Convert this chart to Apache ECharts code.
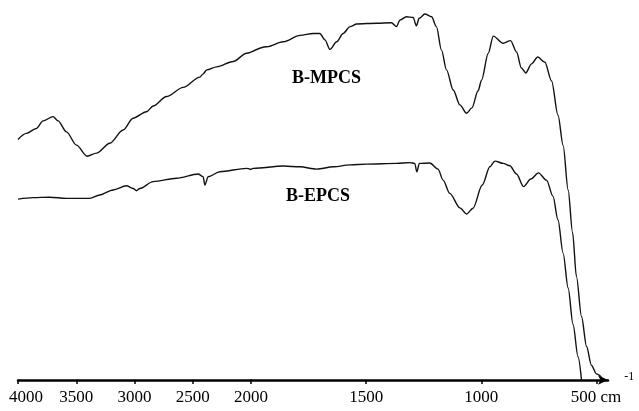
<!DOCTYPE html>
<html>
<head>
<meta charset="utf-8">
<script src="https://cdn.jsdelivr.net/npm/echarts@6/dist/echarts.min.js"></script>
<style>
  html, body { margin: 0; padding: 0; background: #fff; }
  #chart { width: 639px; height: 411px; }
</style>
</head>
<body>
<div id="chart"></div>
<script>
// IR spectra of the two polycarbosilane samples (transmittance, arbitrary %)
// The wavenumber axis changes scale at 2000 cm-1, so it is built from two grids.

const leftTicks = [4000, 3500, 3000, 2500, 2000];
const rightTicks = [1500, 1000, 500];
const unitText = 'cm';
const unitPower = '-1';

const mpcsName = 'B-MPCS';
const mpcsWavenumber = [
  4000, 3928, 3842, 3785, 3699, 3656, 3584, 3498, 3407, 3326,
  3212, 3098, 3012, 2897, 2840, 2725, 2582, 2439, 2413, 2379,
  2296, 2153, 2038, 2000, 1932, 1860, 1787, 1730, 1701, 1679,
  1657, 1628, 1600, 1570, 1541, 1455, 1390, 1368, 1354, 1325,
  1296, 1282, 1270, 1245, 1216, 1195, 1173, 1151, 1122, 1093,
  1064, 1041, 1014, 999, 970, 948, 905, 873, 847, 826,
  807, 782, 755, 724, 695, 667, 645, 623, 604, 587,
  565, 543, 522, 500, 479
];
const mpcsTransmittance = [
  63.3, 64.9, 66.2, 68.2, 69.3, 68.2, 65.3, 61.8, 58.9, 59.7,
  62.3, 65.8, 68.9, 70.6, 72.1, 74.6, 77.0, 79.7, 80.5, 81.6,
  82.4, 83.8, 86.0, 86.3, 87.7, 89.0, 90.7, 91.2, 91.2, 89.5,
  87.0, 89.0, 91.2, 93.0, 93.7, 93.9, 94.0, 93.0, 94.7, 95.6,
  95.4, 93.2, 95.2, 96.3, 95.6, 93.0, 86.8, 81.6, 76.3, 72.4,
  70.2, 71.6, 76.1, 78.9, 86.0, 90.5, 88.6, 89.3, 86.3, 82.1,
  80.8, 83.2, 85.0, 83.6, 78.7, 69.7, 61.8, 50.0, 38.9, 27.2,
  16.7, 8.8, 3.9, 1.6, 0.8
];

const epcsName = 'B-EPCS';
const epcsWavenumber = [
  4000, 3871, 3728, 3584, 3384, 3298, 3184, 3069, 3012, 2983,
  2955, 2840, 2639, 2454, 2411, 2396, 2368, 2267, 2038, 2000,
  1990, 1860, 1787, 1715, 1643, 1570, 1498, 1368, 1310, 1289,
  1280, 1269, 1224, 1188, 1166, 1137, 1093, 1064, 1036, 996,
  963, 941, 905, 876, 847, 817, 785, 752, 717, 689,
  667, 645, 623, 602, 580, 565
];
const epcsTransmittance = [
  47.6, 48.0, 48.1, 47.8, 47.8, 48.7, 50.0, 51.1, 50.4, 49.8,
  50.4, 52.2, 53.1, 54.2, 53.5, 51.3, 53.5, 54.8, 55.7, 55.4,
  55.7, 56.3, 56.1, 55.5, 56.1, 56.6, 56.8, 57.0, 57.2, 57.0,
  54.8, 57.0, 57.1, 55.5, 52.6, 49.1, 45.3, 43.7, 45.2, 51.3,
  56.1, 57.6, 57.0, 56.4, 54.2, 50.9, 52.9, 54.5, 52.6, 48.4,
  42.1, 33.4, 24.2, 14.7, 6.1, 0
];

// split a spectrum into the part drawn on one wavenumber range
function segment(wn, tr, lo, hi) {
  return wn.map((w, i) => [w, tr[i]]).filter(p => p[0] >= lo && p[0] <= hi);
}

const FONT = '"Liberation Serif", "Times New Roman", serif';
const INK = '#111';

const axisLineStyle = { color: '#000', width: 2.5 };
const tickStyle = { length: 4, lineStyle: { color: '#000', width: 1.5 } };
const labelBase = {
  fontFamily: FONT, fontSize: 17, color: '#000',
  verticalAlign: 'middle', margin: 18
};

const lineSeries = (name, data, idx) => ({
  name, type: 'line', data,
  xAxisIndex: idx, yAxisIndex: idx,
  symbol: 'none', smooth: 0.3, smoothMonotone: 'x',
  lineStyle: { color: INK, width: 1.4 },
  z: 3
});

const gridBase = { top: 0, height: 380, containLabel: false, outerBoundsMode: 'none' };

const chart = echarts.init(document.getElementById('chart'), null, { renderer: 'canvas' });
chart.setOption({
  animation: false,
  backgroundColor: '#fff',
  grid: [
    Object.assign({ left: 18, width: 233 }, gridBase),
    Object.assign({ left: 251, width: 357 }, gridBase)
  ],
  xAxis: [
    {
      gridIndex: 0, type: 'value', min: 2000, max: 4000, inverse: true,
      axisLine: { lineStyle: axisLineStyle },
      axisTick: Object.assign({ customValues: leftTicks }, tickStyle),
      axisLabel: Object.assign({
        customValues: leftTicks,
        // the first label sits a little inside the left edge
        formatter: v => v === 4000 ? '{f|' + v + '}' : String(v),
        rich: {
          f: { fontFamily: FONT, fontSize: 17, color: '#000', padding: [0, 0, 0, 16] }
        }
      }, labelBase),
      splitLine: { show: false }
    },
    {
      gridIndex: 1, type: 'value', min: 450, max: 2000, inverse: true,
      axisLine: {
        lineStyle: axisLineStyle,
        symbol: ['none', 'arrow'], symbolSize: [7, 10]
      },
      axisTick: Object.assign({ customValues: rightTicks }, tickStyle),
      axisLabel: Object.assign({
        customValues: rightTicks,
        formatter: v => v === 500 ? '{m|500 ' + unitText + '}{s|' + unitPower + '}' : String(v),
        rich: {
          m: { fontFamily: FONT, fontSize: 17, color: '#000', verticalAlign: 'middle', padding: [0, 0, 0, 12] },
          s: { fontFamily: FONT, fontSize: 12, color: '#000', verticalAlign: 'top', padding: [0, 0, 42, 3] }
        }
      }, labelBase),
      splitLine: { show: false }
    }
  ],
  yAxis: [
    { gridIndex: 0, type: 'value', min: 0, max: 100, show: false },
    { gridIndex: 1, type: 'value', min: 0, max: 100, show: false }
  ],
  series: [
    lineSeries(mpcsName, segment(mpcsWavenumber, mpcsTransmittance, 2000, 4000), 0),
    lineSeries(mpcsName, segment(mpcsWavenumber, mpcsTransmittance, 0, 2000), 1),
    lineSeries(epcsName, segment(epcsWavenumber, epcsTransmittance, 2000, 4000), 0),
    lineSeries(epcsName, segment(epcsWavenumber, epcsTransmittance, 0, 2000), 1)
  ],
  graphic: [
    { type: 'text', left: 292, top: 69,
      style: { text: mpcsName, font: 'bold 18px ' + FONT, fill: '#000' } },
    { type: 'text', left: 286, top: 187,
      style: { text: epcsName, font: 'bold 18px ' + FONT, fill: '#000' } }
  ]
});
</script>
</body>
</html>
